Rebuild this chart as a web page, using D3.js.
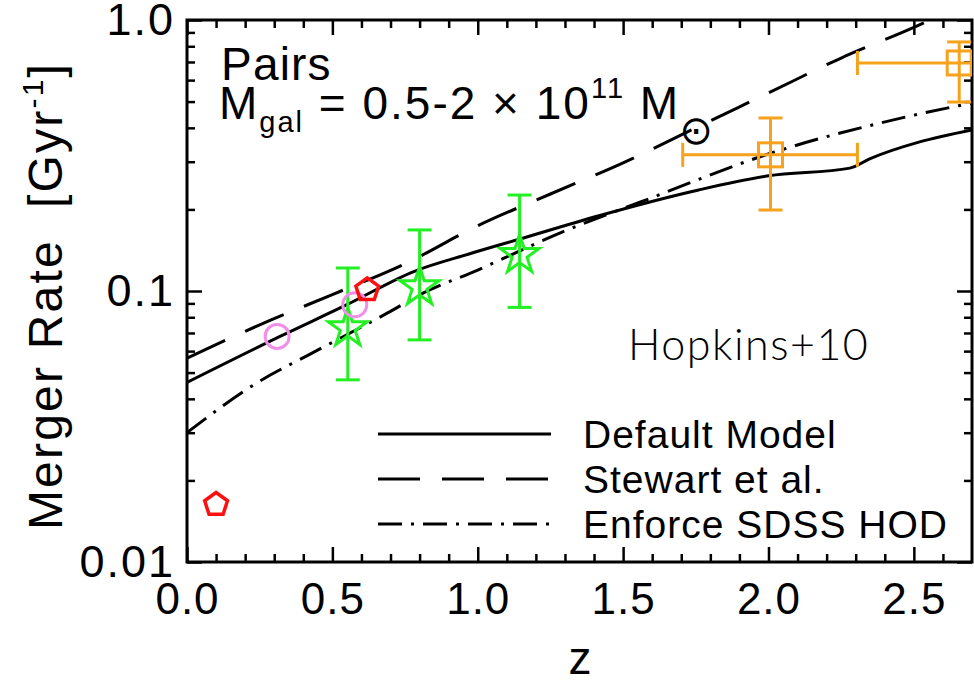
<!DOCTYPE html>
<html>
<head>
<meta charset="utf-8">
<script src="https://cdn.jsdelivr.net/npm/d3@7"></script>
<style>
  html, body { margin: 0; padding: 0; background: #fff; }
  #chart { width: 974px; height: 682px; }
  text { font-family: "Liberation Sans", Arial, Helvetica, sans-serif; fill: #000; }
</style>
</head>
<body>
<div id="chart"></div>
<script>
// model curves (z, merger rate in Gyr^-1)
const defaultZ = [0, 0.32, 0.55, 0.78, 0.97, 1.14, 1.42, 1.76, 2.0, 2.28, 2.35, 2.52, 2.7];
const defaultRate = [0.046, 0.068, 0.089, 0.118, 0.137, 0.155, 0.19, 0.236, 0.266, 0.284, 0.308, 0.355, 0.393];

const stewartZ = [0, 0.25, 0.5, 0.75, 1.0, 1.25, 1.5, 1.75, 2.0, 2.25, 2.5, 2.7];
const stewartRate = [0.0565, 0.075, 0.097, 0.126, 0.174, 0.228, 0.297, 0.4, 0.538, 0.724, 0.94, 1.18];

const sdssZ = [0, 0.24, 0.43, 0.69, 0.81, 1.0, 1.29, 1.56, 2.01, 2.47, 2.7];
const sdssRate = [0.03, 0.0458, 0.059, 0.083, 0.098, 0.1195, 0.165, 0.213, 0.323, 0.438, 0.494];

// observations
const pentagonZ = [0.1, 0.62];
const pentagonRate = [0.0163, 0.101];

const circleZ = [0.31, 0.577];
const circleRate = [0.068, 0.089];

const starZ = [0.553, 0.8, 1.144];
const starRate = [0.073, 0.1035, 0.136];
const starLow = [0.047, 0.066, 0.087];
const starHigh = [0.1216, 0.168, 0.226];

const squareZ = [2.007, 2.656];
const squareZLow = [1.705, 2.306];
const squareZHigh = [2.306, 3.0];
const squareRate = [0.318, 0.694];
const squareLow = [0.199, 0.498];
const squareHigh = [0.435, 0.83];

const xMajor = [0, 0.5, 1.0, 1.5, 2.0, 2.5];
const xLabels = ["0.0", "0.5", "1.0", "1.5", "2.0", "2.5"];
const yMajor = [0.01, 0.1, 1];
const yLabels = ["0.01", "0.1", "1.0"];

const legendNames = ["Default Model", "Stewart et al.", "Enforce SDSS HOD"];
const dashes = [null, "42,22", "24,9,3,9"];

const containerWidth = 974,
  containerHeight = 682,
  margin = { top: 20, right: 2, bottom: 120, left: 187 },
  width = containerWidth - margin.left - margin.right,
  height = containerHeight - margin.top - margin.bottom;

const svg = d3
  .select("#chart")
  .append("svg")
  .attr("width", containerWidth)
  .attr("height", containerHeight);

const graph = svg.append("g").attr("transform", `translate(${margin.left}, ${margin.top})`);

svg
  .append("defs")
  .append("clipPath")
  .attr("id", "plotClip")
  .append("rect")
  .attr("width", width)
  .attr("height", height);

const xScale = d3.scaleLinear().domain([0, 2.7]).range([0, width]);
const yScale = d3.scaleLog().domain([0.01, 1]).range([height, 0]);

const xMinor = d3.range(1, 27).map((d) => d / 10).filter((d) => Math.abs(d * 2 - Math.round(d * 2)) > 1e-6);
const yMinor = [];
[0.01, 0.1].forEach((dec) => {
  for (let k = 2; k <= 9; k++) yMinor.push(dec * k);
});

// ticks on all four sides, pointing inward
function tickStyle(g) {
  g.select(".domain").remove();
  g.selectAll("line").attr("stroke", "#000").attr("stroke-width", 2.5);
}

graph.append("g").attr("transform", `translate(0, ${height})`)
  .call(d3.axisBottom(xScale).tickValues(xMinor).tickSize(-8).tickFormat(""))
  .call(tickStyle);
graph.append("g").call(d3.axisTop(xScale).tickValues(xMinor).tickSize(-8).tickFormat("")).call(tickStyle);
graph.append("g").call(d3.axisTop(xScale).tickValues(xMajor).tickSize(-15).tickFormat("")).call(tickStyle);
const xAxisGroup = graph
  .append("g")
  .attr("transform", `translate(0, ${height})`)
  .call(d3.axisBottom(xScale).tickValues(xMajor).tickSize(-15).tickPadding(21).tickFormat((d, i) => xLabels[i]))
  .call(tickStyle);
xAxisGroup.selectAll("text")
  .attr("font-size", 44)
  .attr("letter-spacing", 1)
  .attr("fill", "#000");

graph.append("g").call(d3.axisLeft(yScale).tickValues(yMinor).tickSize(-8).tickFormat("")).call(tickStyle);
graph.append("g").attr("transform", `translate(${width}, 0)`)
  .call(d3.axisRight(yScale).tickValues(yMinor).tickSize(-8).tickFormat(""))
  .call(tickStyle);
graph.append("g").attr("transform", `translate(${width}, 0)`)
  .call(d3.axisRight(yScale).tickValues(yMajor).tickSize(-15).tickFormat(""))
  .call(tickStyle);
const yAxisGroup = graph
  .append("g")
  .call(d3.axisLeft(yScale).tickValues(yMajor).tickSize(-15).tickPadding(12).tickFormat((d, i) => yLabels[i]))
  .call(tickStyle);
yAxisGroup.selectAll("text")
  .attr("font-size", 45)
  .attr("letter-spacing", 2)
  .attr("fill", "#000");

// frame
graph
  .append("rect")
  .attr("width", width)
  .attr("height", height)
  .attr("fill", "none")
  .attr("stroke", "#000")
  .attr("stroke-width", 3);

// axis titles
svg
  .append("text")
  .attr("x", 580)
  .attr("y", 674)
  .attr("text-anchor", "middle")
  .attr("font-size", 46)
  .text("z");

const yTitle = svg
  .append("text")
  .attr("transform", "translate(62, 296) rotate(-90)")
  .attr("text-anchor", "middle")
  .attr("font-size", 48)
  .attr("letter-spacing", 2.2);
yTitle.append("tspan").text("Merger Rate\u00a0\u00a0[Gyr");
yTitle.append("tspan").attr("font-size", 30).attr("dy", -19).text("-1");
yTitle.append("tspan").attr("dy", 19).text("]");

// model lines
const plot = graph.append("g").attr("clip-path", "url(#plotClip)");

const line = d3
  .line()
  .x((d) => xScale(d[0]))
  .y((d) => yScale(d[1]))
  .curve(d3.curveMonotoneX);

const models = [
  d3.zip(defaultZ, defaultRate),
  d3.zip(stewartZ, stewartRate),
  d3.zip(sdssZ, sdssRate),
];

plot
  .selectAll(".model")
  .data(models)
  .enter()
  .append("path")
  .attr("class", "model")
  .attr("fill", "none")
  .attr("stroke", "#000")
  .attr("stroke-width", 3)
  .attr("stroke-dasharray", (d, i) => dashes[i])
  .attr("d", line);

// green stars with error bars
const green = "#22f022";
const starGroup = plot.append("g");
starZ.forEach((z, i) => {
  const cx = xScale(z);
  starGroup.append("line")
    .attr("x1", cx).attr("x2", cx)
    .attr("y1", yScale(starLow[i])).attr("y2", yScale(starHigh[i]))
    .attr("stroke", green).attr("stroke-width", 3);
  [starLow[i], starHigh[i]].forEach((v) => {
    starGroup.append("line")
      .attr("x1", cx - 12).attr("x2", cx + 12)
      .attr("y1", yScale(v)).attr("y2", yScale(v))
      .attr("stroke", green).attr("stroke-width", 3);
  });
});
starGroup
  .selectAll("path")
  .data(d3.zip(starZ, starRate))
  .enter()
  .append("path")
  .attr("d", d3.symbol(d3.symbolStar, 470))
  .attr("transform", (d) => `translate(${xScale(d[0])}, ${yScale(d[1])})`)
  .attr("fill", "none")
  .attr("stroke", green)
  .attr("stroke-width", 3);

// orange squares with error bars
const orange = "#f7a21c";
const sqGroup = plot.append("g");
squareZ.forEach((z, i) => {
  const cx = xScale(z), cy = yScale(squareRate[i]);
  sqGroup.append("line")
    .attr("x1", cx).attr("x2", cx)
    .attr("y1", yScale(squareLow[i])).attr("y2", yScale(squareHigh[i]))
    .attr("stroke", orange).attr("stroke-width", 3);
  sqGroup.append("line")
    .attr("x1", xScale(squareZLow[i])).attr("x2", xScale(squareZHigh[i]))
    .attr("y1", cy).attr("y2", cy)
    .attr("stroke", orange).attr("stroke-width", 3);
  [squareLow[i], squareHigh[i]].forEach((v) => {
    sqGroup.append("line")
      .attr("x1", cx - 12).attr("x2", cx + 12)
      .attr("y1", yScale(v)).attr("y2", yScale(v))
      .attr("stroke", orange).attr("stroke-width", 3);
  });
  [squareZLow[i], squareZHigh[i]].forEach((zz) => {
    sqGroup.append("line")
      .attr("x1", xScale(zz)).attr("x2", xScale(zz))
      .attr("y1", cy - 12).attr("y2", cy + 12)
      .attr("stroke", orange).attr("stroke-width", 3);
  });
  sqGroup.append("rect")
    .attr("x", cx - 12).attr("y", cy - 12)
    .attr("width", 24).attr("height", 24)
    .attr("fill", "none")
    .attr("stroke", orange).attr("stroke-width", 3);
});

// pink circles
plot
  .selectAll(".pinkCircle")
  .data(d3.zip(circleZ, circleRate))
  .enter()
  .append("circle")
  .attr("class", "pinkCircle")
  .attr("cx", (d) => xScale(d[0]))
  .attr("cy", (d) => yScale(d[1]))
  .attr("r", 12)
  .attr("fill", "none")
  .attr("stroke", "#f08ee8")
  .attr("stroke-width", 3);

// red pentagons
const pentagon = d3.range(5).map((k) => {
  const a = -Math.PI / 2 + (k * 2 * Math.PI) / 5;
  return [12 * Math.cos(a), 12 * Math.sin(a)];
});
plot
  .selectAll(".pentagon")
  .data(d3.zip(pentagonZ, pentagonRate))
  .enter()
  .append("path")
  .attr("class", "pentagon")
  .attr("d", "M" + pentagon.join("L") + "Z")
  .attr("transform", (d) => `translate(${xScale(d[0])}, ${yScale(d[1])})`)
  .attr("fill", "none")
  .attr("stroke", "#ff1010")
  .attr("stroke-width", 3.5);

// annotations
svg.append("text").attr("x", 221).attr("y", 80)
  .attr("font-size", 46).attr("letter-spacing", 1.2).text("Pairs");
const mass = svg.append("text").attr("x", 219).attr("y", 119)
  .attr("font-size", 46).attr("letter-spacing", 2);
mass.append("tspan").text("M");
mass.append("tspan").attr("font-size", 29).attr("dy", 13).text("gal");
mass.append("tspan").attr("dy", -13).text(" = 0.5-2 \u00d7 10");
mass.append("tspan").attr("font-size", 29).attr("dy", -21).text("11");
mass.append("tspan").attr("dy", 21).text(" M");
mass.append("tspan").attr("font-size", 40).attr("dy", 25).attr("dx", -1)
  .style("font-family", "'DejaVu Sans', sans-serif").text("\u2299");

svg
  .append("text")
  .attr("x", 628)
  .attr("y", 360)
  .attr("font-size", 43)
  .attr("letter-spacing", 1.5)
  .style("font-family", "Lato, 'Open Sans', sans-serif")
  .style("font-weight", 300)
  .text("Hopkins+10");

// legend
const legend = svg
  .selectAll(".legend")
  .data(legendNames)
  .enter()
  .append("g")
  .attr("class", "legend")
  .attr("transform", (d, i) => `translate(378, ${434 + 45 * i})`);

legend
  .append("line")
  .attr("x1", 0)
  .attr("x2", 173)
  .attr("stroke", "#000")
  .attr("stroke-width", 3)
  .attr("stroke-dasharray", (d, i) => dashes[i]);

legend
  .append("text")
  .attr("x", 205)
  .attr("dy", "0.36em")
  .attr("font-size", 39)
  .attr("letter-spacing", 1)
  .text((d) => d);
</script>
</body>
</html>
